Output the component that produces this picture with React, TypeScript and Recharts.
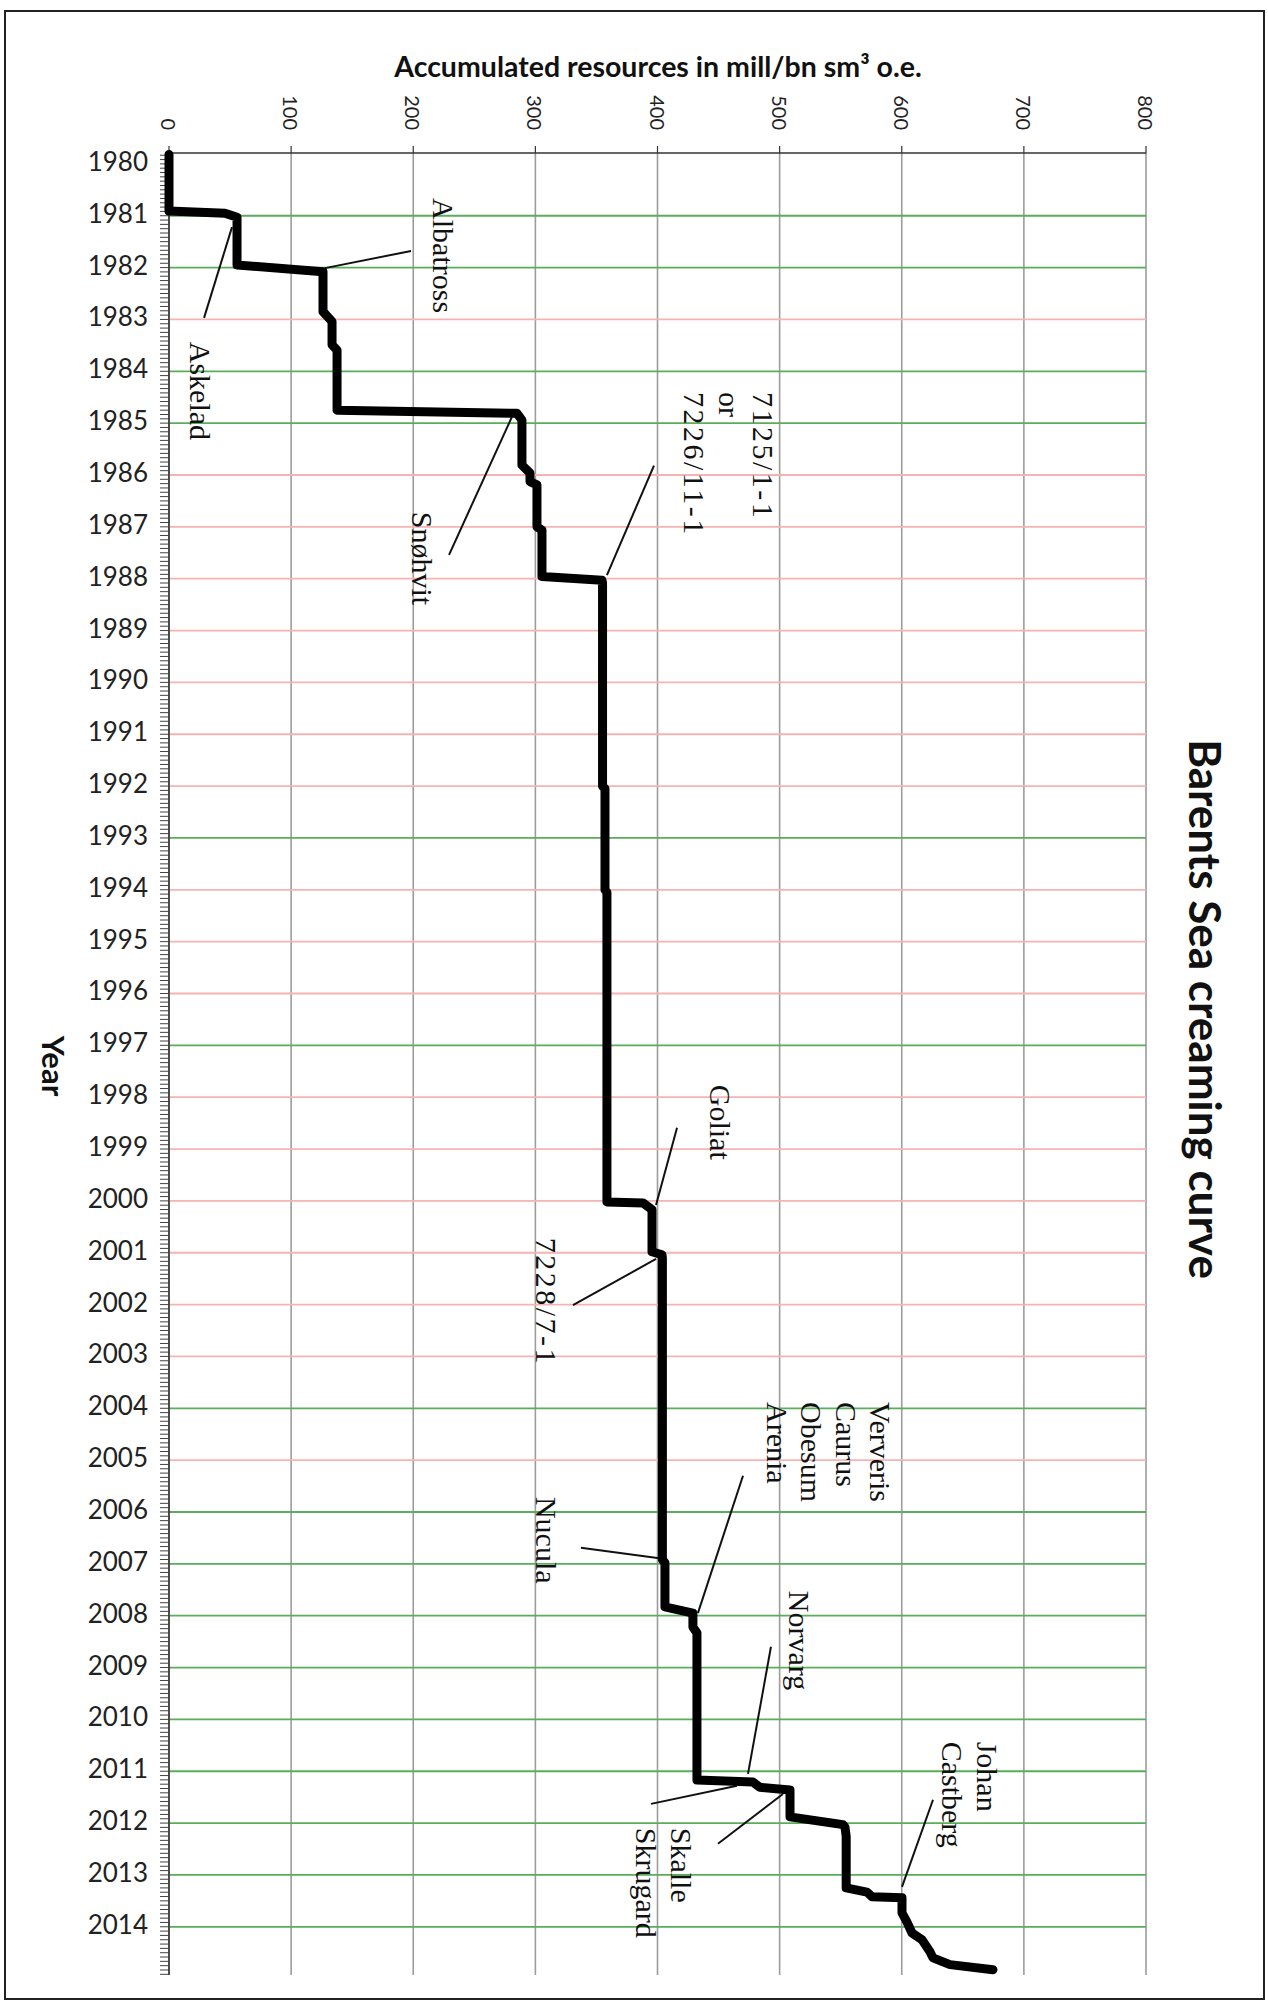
import React from 'react';
import { ScatterChart, Scatter, XAxis, YAxis, CartesianGrid, ReferenceLine } from 'recharts';

// Step curve (accumulated resources vs. time)
const CURVE_VALUES = [
  0, 0, 45.8, 55.7, 55.7, 126.1, 126.1, 133.5, 133.5, 137.6, 137.6, 285, 289, 289, 295.6, 295.6,
  301.3, 301.3, 305.4, 305.4, 354.5, 355, 355, 357, 357, 358.6, 358.6, 388.1, 395.5, 395.5, 403.7,
  404, 404, 406.1, 406.1, 429, 429, 432.3, 432.3, 478.2, 483.9, 508.5, 508.5, 551.9, 553.5, 554.5,
  554.5, 571.5, 575.6, 600.2, 600.2, 604.3, 608.4, 616.6, 623.1, 625.6, 639.5, 674.7,
];
const CURVE_YEARS = [
  1979.82, 1980.91, 1980.95, 1981.03, 1981.95, 1982.08, 1982.85, 1983.04, 1983.49, 1983.59, 1984.75,
  1984.81, 1984.94, 1985.81, 1985.96, 1986.13, 1986.19, 1987.0, 1987.06, 1987.96, 1988.03, 1988.08,
  1992.0, 1992.05, 1994.0, 1994.05, 2000.02, 2000.04, 2000.17, 2000.98, 2001.04, 2001.1, 2006.92,
  2006.98, 2007.83, 2007.95, 2008.22, 2008.33, 2011.17, 2011.21, 2011.31, 2011.36, 2011.88, 2012.03,
  2012.08, 2012.25, 2013.25, 2013.33, 2013.42, 2013.44, 2013.73, 2013.91, 2014.12, 2014.25, 2014.48,
  2014.6, 2014.73, 2014.83,
];

const X_TICKS = [0, 100, 200, 300, 400, 500, 600, 700, 800];
const YEAR_LABELS = [
  1980, 1981, 1982, 1983, 1984, 1985, 1986, 1987, 1988, 1989, 1990, 1991, 1992, 1993, 1994, 1995,
  1996, 1997, 1998, 1999, 2000, 2001, 2002, 2003, 2004, 2005, 2006, 2007, 2008, 2009, 2010, 2011,
  2012, 2013, 2014,
];
const GREEN_YEARS = [1981, 1982, 1984, 1985, 1993, 1997, 2004, 2006, 2007, 2008, 2009, 2010, 2011, 2012, 2013, 2014];

// Annotations (rotated text, anchored at start of first line)
const ANNOT_LINES = [
  ['Albatross'],
  ['Askelad'],
  ['Snøhvit'],
  ['7125/1-1', 'or', '7226/11-1'],
  ['Goliat'],
  ['7228/7-1'],
  ['Ververis', 'Caurus', 'Obesum', 'Arenia'],
  ['Nucula'],
  ['Norvarg'],
  ['Skalle', 'Skrugard'],
  ['Johan', 'Castberg'],
];
const ANNOT_VALUES = [216.2, 17.2, 199, 478.2, 443, 300.5, 574, 300.5, 507.7, 411, 661.6];
const ANNOT_YEARS = [1980.66, 1983.43, 1986.71, 1984.4, 1997.76, 2000.71, 2003.88, 2005.71, 2007.52, 2012.09, 2010.43];

// Leader lines
const LEADER_FROM_V = [198.2, 28.7, 229.3, 397.1, 416, 330.8, 470, 337.3, 492.9, 449.5, 394.7, 625.6];
const LEADER_FROM_YR = [1981.68, 1982.97, 1987.54, 1985.82, 1998.59, 2002.01, 2005.3, 2006.69, 2008.6, 2012.4, 2011.63, 2011.55];
const LEADER_TO_V = [127.7, 51.6, 280.8, 358.6, 398.8, 398.8, 433.1, 404.5, 474.1, 502.7, 465.1, 600.2];
const LEADER_TO_YR = [1982.01, 1981.22, 1984.88, 1987.93, 2000.08, 2001.12, 2007.95, 2006.9, 2011.05, 2011.44, 2011.28, 2013.23];

const curveData = CURVE_VALUES.map((v, i) => ({ v, yr: CURVE_YEARS[i] }));
const annotData = ANNOT_LINES.map((lines, i) => ({ v: ANNOT_VALUES[i], yr: ANNOT_YEARS[i], lines }));
const minorTicks: number[] = [];
for (let k = -2; k <= (2014 - 1980) * 12 + 11; k++) minorTicks.push(1980 + k / 12);

const SANS = "Lato, 'Open Sans', sans-serif";
const SERIF = "'Liberation Serif', 'DejaVu Serif', serif";

const XTick = (props: any) => {
  const { x, y, payload } = props;
  return (
    <text x={x} y={y} transform={`rotate(90 ${x} ${y})`} textAnchor="end" dominantBaseline="central"
      fontFamily={SANS} fontSize={20} fill="#222">{payload.value}</text>
  );
};

const YTick = (props: any) => {
  const { x, y, payload } = props;
  const v = payload.value;
  if (Math.abs(v - Math.round(v)) > 1e-6) return <g />;
  return (
    <text x={x} y={y - 3} textAnchor="end" dominantBaseline="central" fontFamily={SANS} fontSize={26} fill="#222">
      {Math.round(v)}
    </text>
  );
};

const AnnotShape = (props: any) => {
  const { cx, cy } = props;
  const d = props.payload ?? props;
  const lines: string[] = d.lines || [];
  return (
    <text x={cx} y={cy} transform={`rotate(90 ${cx} ${cy})`} fontFamily={SERIF} fontSize={30} fill="#111">
      {lines.map((l, i) => (
        <tspan key={i} x={cx} dy={i === 0 ? 0 : 34.5} letterSpacing={/\d/.test(l) ? 2.5 : 0}>{l}</tspan>
      ))}
    </text>
  );
};

export default function App() {
  return (
    <div style={{ position: 'absolute', left: 0, top: 0, width: 1268, height: 2002, background: '#fff' }}>
      <div style={{ position: 'absolute', left: 4, top: 10, width: 1261, height: 1990, border: '2px solid #222', boxSizing: 'border-box' }} />
      <ScatterChart width={1268} height={2002} margin={{ top: 0, right: 122, bottom: 27, left: 0 }}>
        <CartesianGrid horizontal={false} stroke="#9c9c9c" strokeWidth={1.6} />
        <XAxis type="number" dataKey="v" orientation="top" domain={[0, 800]} ticks={X_TICKS} interval={0}
          height={153} tickSize={7} tickMargin={16} tick={<XTick />} axisLine={{ stroke: '#333', strokeWidth: 1.6 }}
          tickLine={{ stroke: '#333', strokeWidth: 1.2 }} />
        <YAxis type="number" dataKey="yr" reversed domain={[1979.79, 2014.93]} ticks={minorTicks} interval={0}
          width={169} tickSize={9} tickMargin={12} tick={<YTick />} axisLine={{ stroke: '#333', strokeWidth: 1.6 }}
          tickLine={{ stroke: '#444', strokeWidth: 1 }} />
        {YEAR_LABELS.filter((y) => y > 1980).map((y) => (
          <ReferenceLine key={y} y={y} stroke={GREEN_YEARS.includes(y) ? '#5aad5a' : '#f5b3b3'} strokeWidth={1.8} />
        ))}
        {LEADER_FROM_V.map((v, i) => (
          <ReferenceLine key={'l' + i} segment={[{ x: v, y: LEADER_FROM_YR[i] }, { x: LEADER_TO_V[i], y: LEADER_TO_YR[i] }]}
            stroke="#111" strokeWidth={2} />
        ))}
        <Scatter data={curveData} isAnimationActive={false} shape={() => <g />}
          line={{ stroke: '#000', strokeWidth: 9, strokeLinejoin: 'round', strokeLinecap: 'round' }} lineType="joint" />
        <Scatter data={annotData} isAnimationActive={false} shape={<AnnotShape />} />
      </ScatterChart>
      <div style={{ position: 'absolute', left: 658, top: 66, transform: 'translate(-50%, -50%)', whiteSpace: 'nowrap',
        fontFamily: SANS, fontWeight: 700, fontSize: 28.5, color: '#111' }}>
        Accumulated resources in mill/bn sm³ o.e.
      </div>
      <div style={{ position: 'absolute', left: 54, top: 1066, transform: 'translate(-50%, -50%)', writingMode: 'vertical-rl',
        whiteSpace: 'nowrap', fontFamily: SANS, fontWeight: 700, fontSize: 31, color: '#111' }}>
        Year
      </div>
      <div style={{ position: 'absolute', left: 1206, top: 1009, transform: 'translate(-50%, -50%)', writingMode: 'vertical-rl',
        whiteSpace: 'nowrap', fontFamily: SANS, fontWeight: 700, fontSize: 44, color: '#111' }}>
        Barents Sea creaming curve
      </div>
    </div>
  );
}
